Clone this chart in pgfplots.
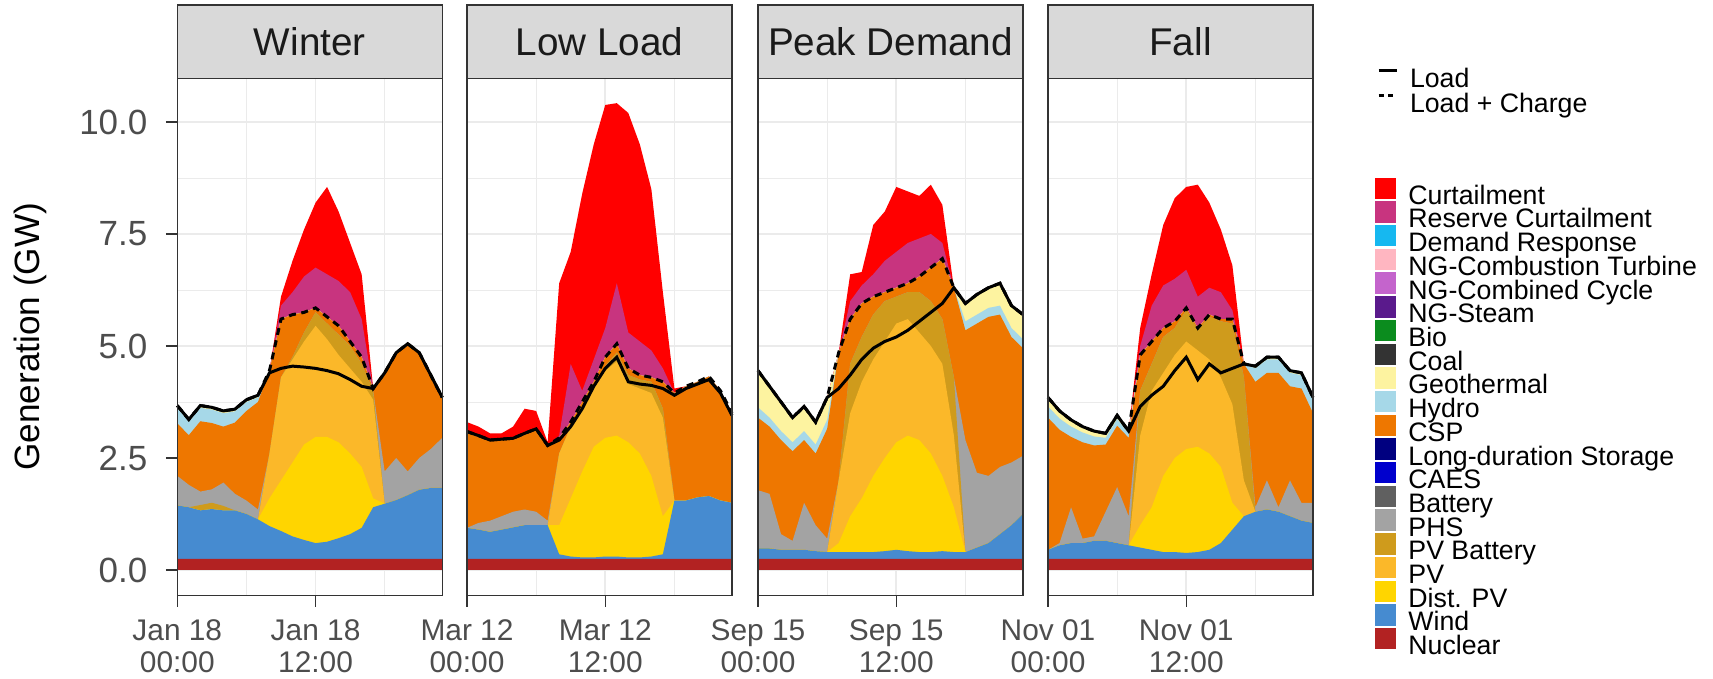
\documentclass[border=0pt]{standalone}
\usepackage{fontspec}
\setmainfont{Liberation Sans}
\usepackage{pgfplots}
\usepackage{pgfplotstable}
\pgfplotsset{compat=1.18}

\definecolor{cCur}{HTML}{FF0000}
\definecolor{cRC}{HTML}{C8347F}
\definecolor{cDR}{HTML}{16B8F0}
\definecolor{cNGCT}{HTML}{FFB6C1}
\definecolor{cNGCC}{HTML}{C464CC}
\definecolor{cNGS}{HTML}{5A1A8C}
\definecolor{cBio}{HTML}{0B8C1E}
\definecolor{cCoal}{HTML}{333333}
\definecolor{cGeo}{HTML}{FDF3A0}
\definecolor{cHyd}{HTML}{A6D8E8}
\definecolor{cCSP}{HTML}{EE7700}
\definecolor{cLDS}{HTML}{000080}
\definecolor{cCAES}{HTML}{0000CD}
\definecolor{cBat}{HTML}{606060}
\definecolor{cPHS}{HTML}{A3A3A3}
\definecolor{cPVB}{HTML}{CF9B1C}
\definecolor{cPV}{HTML}{FBB829}
\definecolor{cDPV}{HTML}{FFD500}
\definecolor{cWind}{HTML}{468BD0}
\definecolor{cNuc}{HTML}{B22222}
\definecolor{cGrid}{HTML}{EBEBEB}
\definecolor{cFrame}{HTML}{333333}
\definecolor{cTick}{HTML}{4D4D4D}
\definecolor{cStrip}{HTML}{D9D9D9}
\definecolor{cStripTxt}{HTML}{1A1A1A}

% cumulative tops of each layer (GW)
\pgfplotstableread{
h nuc wind dpv pv pvb phs csp hyd geo rc cur load lc
0 0.25 1.44 1.44 1.44 1.44 2.10 3.27 3.62 3.67 3.67 3.67 3.67 3.67
1 0.25 1.40 1.40 1.40 1.40 1.90 3.01 3.31 3.36 3.36 3.36 3.36 3.36
2 0.25 1.33 1.33 1.33 1.45 1.75 3.32 3.62 3.67 3.67 3.67 3.67 3.67
3 0.25 1.36 1.36 1.36 1.50 1.80 3.28 3.58 3.63 3.63 3.63 3.63 3.63
4 0.25 1.33 1.33 1.33 1.43 1.95 3.20 3.50 3.55 3.55 3.55 3.55 3.55
5 0.25 1.33 1.33 1.33 1.33 1.70 3.29 3.54 3.59 3.59 3.59 3.59 3.59
6 0.25 1.25 1.25 1.25 1.25 1.55 3.55 3.75 3.80 3.80 3.80 3.80 3.80
7 0.25 1.13 1.13 1.13 1.13 1.35 3.75 3.85 3.90 3.90 3.90 3.90 3.90
8 0.25 0.98 1.60 2.60 2.60 2.60 4.45 4.45 4.45 4.45 4.45 4.40 4.45
9 0.25 0.87 2.00 4.30 4.30 4.30 5.60 5.60 5.60 5.90 6.10 4.50 5.60
10 0.25 0.75 2.40 4.70 4.75 4.75 5.70 5.70 5.70 6.20 6.90 4.55 5.70
11 0.25 0.67 2.80 5.10 5.30 5.30 5.75 5.75 5.75 6.55 7.60 4.53 5.75
12 0.25 0.60 2.97 5.45 5.75 5.75 5.85 5.85 5.85 6.75 8.20 4.50 5.85
13 0.25 0.63 2.97 5.15 5.50 5.50 5.65 5.65 5.65 6.60 8.55 4.45 5.65
14 0.25 0.71 2.85 4.80 5.25 5.25 5.45 5.45 5.45 6.45 8.00 4.38 5.45
15 0.25 0.80 2.60 4.50 5.00 5.00 5.10 5.10 5.10 6.20 7.30 4.25 5.10
16 0.25 0.94 2.30 4.20 4.60 4.60 4.75 4.75 4.75 5.60 6.60 4.10 4.75
17 0.25 1.40 1.60 3.80 4.00 4.00 4.05 4.05 4.05 4.05 4.05 4.05 4.05
18 0.25 1.48 1.48 1.48 1.48 2.20 4.40 4.40 4.40 4.40 4.40 4.40 4.40
19 0.25 1.56 1.56 1.56 1.56 2.50 4.85 4.85 4.85 4.85 4.85 4.85 4.85
20 0.25 1.67 1.67 1.67 1.67 2.20 5.05 5.05 5.05 5.05 5.05 5.05 5.05
21 0.25 1.79 1.79 1.79 1.79 2.50 4.85 4.85 4.85 4.85 4.85 4.85 4.85
22 0.25 1.83 1.83 1.83 1.83 2.70 4.35 4.35 4.35 4.35 4.35 4.35 4.35
23 0.25 1.83 1.83 1.83 1.83 2.95 3.85 3.85 3.85 3.85 3.85 3.85 3.85
}\tWinter

\pgfplotstableread{
h nuc wind dpv pv pvb phs csp hyd geo rc cur load lc
0 0.25 0.94 0.94 0.94 0.94 0.94 3.09 3.09 3.09 3.09 3.30 3.09 3.09
1 0.25 0.90 0.90 0.90 0.90 1.05 3.00 3.00 3.00 3.00 3.20 3.00 3.00
2 0.25 0.85 0.85 0.85 0.85 1.10 2.90 2.90 2.90 2.90 3.05 2.90 2.90
3 0.25 0.90 0.90 0.90 0.90 1.20 2.92 2.92 2.92 2.92 3.05 2.92 2.92
4 0.25 0.95 0.95 0.95 0.95 1.30 2.94 2.94 2.94 2.94 3.20 2.94 2.94
5 0.25 1.00 1.00 1.00 1.00 1.35 3.05 3.05 3.05 3.05 3.60 3.05 3.05
6 0.25 1.00 1.00 1.00 1.00 1.30 3.15 3.15 3.15 3.15 3.55 3.15 3.15
7 0.25 1.00 1.00 1.00 1.00 1.10 2.78 2.78 2.78 2.78 2.85 2.78 2.78
8 0.25 0.35 1.00 2.60 2.60 2.60 2.95 2.95 2.95 3.00 6.40 2.90 2.95
9 0.25 0.30 1.60 3.20 3.20 3.20 3.30 3.30 3.30 4.60 7.10 3.20 3.30
10 0.25 0.28 2.20 3.60 3.65 3.65 3.75 3.75 3.75 4.00 8.40 3.60 3.75
11 0.25 0.28 2.75 4.05 4.10 4.10 4.20 4.20 4.20 4.70 9.50 4.10 4.20
12 0.25 0.30 2.95 4.45 4.55 4.55 4.75 4.75 4.75 5.40 10.38 4.50 4.75
13 0.25 0.30 3.00 4.65 4.85 4.85 5.05 5.05 5.05 6.40 10.42 4.75 5.05
14 0.25 0.28 2.85 4.15 4.35 4.35 4.50 4.50 4.50 5.30 10.20 4.20 4.50
15 0.25 0.28 2.60 4.05 4.25 4.25 4.35 4.35 4.35 5.10 9.50 4.15 4.35
16 0.25 0.30 2.10 3.95 4.20 4.20 4.30 4.30 4.30 4.90 8.50 4.12 4.30
17 0.25 0.35 1.20 3.40 3.60 3.60 4.20 4.20 4.20 4.50 6.20 4.05 4.20
18 0.25 1.55 1.55 1.55 1.55 1.55 3.95 3.95 3.95 3.95 4.05 3.90 3.95
19 0.25 1.55 1.55 1.55 1.55 1.55 4.10 4.10 4.10 4.10 4.10 4.05 4.10
20 0.25 1.62 1.62 1.62 1.62 1.62 4.20 4.20 4.20 4.20 4.20 4.15 4.20
21 0.25 1.65 1.65 1.65 1.65 1.65 4.32 4.32 4.32 4.32 4.32 4.25 4.32
22 0.25 1.55 1.55 1.55 1.55 1.55 4.00 4.00 4.00 4.00 4.00 3.95 4.00
23 0.25 1.50 1.50 1.50 1.50 1.50 3.50 3.50 3.50 3.50 3.50 3.45 3.50
}\tLow

\pgfplotstableread{
h nuc wind dpv pv pvb phs csp hyd geo rc cur load lc
0 0.25 0.48 0.48 0.48 0.48 1.78 3.40 3.63 4.45 4.45 4.45 4.45 4.45
1 0.25 0.48 0.48 0.48 0.48 1.70 3.20 3.40 4.10 4.10 4.10 4.10 4.10
2 0.25 0.45 0.45 0.45 0.45 0.80 2.90 3.10 3.75 3.75 3.75 3.75 3.75
3 0.25 0.45 0.45 0.45 0.45 0.65 2.65 2.85 3.40 3.40 3.40 3.40 3.40
4 0.25 0.45 0.45 0.45 0.45 1.50 2.90 3.10 3.65 3.65 3.65 3.65 3.65
5 0.25 0.42 0.42 0.42 0.42 1.00 2.60 2.80 3.30 3.30 3.30 3.30 3.30
6 0.25 0.40 0.40 0.40 0.40 0.70 3.15 3.35 3.85 3.85 3.85 3.85 3.85
7 0.25 0.40 0.60 2.00 2.00 2.00 4.85 4.85 4.85 4.85 4.85 4.05 4.85
8 0.25 0.40 1.20 3.50 4.60 4.60 5.60 5.60 5.60 6.00 6.60 4.35 5.60
9 0.25 0.40 1.60 4.20 5.20 5.20 5.95 5.95 5.95 6.35 6.65 4.70 5.95
10 0.25 0.40 2.10 4.70 5.70 5.70 6.10 6.10 6.10 6.60 7.70 4.95 6.10
11 0.25 0.42 2.50 5.10 6.00 6.00 6.20 6.20 6.20 6.90 8.00 5.10 6.20
12 0.25 0.45 2.85 5.50 6.10 6.10 6.30 6.30 6.30 7.10 8.55 5.20 6.30
13 0.25 0.42 3.00 5.60 6.20 6.20 6.40 6.40 6.40 7.30 8.45 5.35 6.40
14 0.25 0.40 2.90 5.30 6.20 6.20 6.55 6.55 6.55 7.40 8.35 5.55 6.55
15 0.25 0.40 2.60 5.00 6.00 6.00 6.75 6.75 6.75 7.50 8.60 5.75 6.75
16 0.25 0.42 2.10 4.60 5.60 5.60 6.95 6.95 6.95 7.30 8.15 5.95 6.95
17 0.25 0.40 1.40 3.00 4.30 4.30 6.30 6.30 6.30 6.30 6.30 6.30 6.30
18 0.25 0.40 0.40 0.40 0.40 2.90 5.35 5.55 5.95 5.95 5.95 5.95 5.95
19 0.25 0.50 0.50 0.50 0.50 2.17 5.50 5.70 6.15 6.15 6.15 6.15 6.15
20 0.25 0.60 0.60 0.60 0.60 2.10 5.65 5.85 6.30 6.30 6.30 6.30 6.30
21 0.25 0.80 0.80 0.80 0.80 2.30 5.70 5.90 6.40 6.40 6.40 6.40 6.40
22 0.25 1.00 1.00 1.00 1.00 2.40 5.20 5.40 5.90 5.90 5.90 5.90 5.90
23 0.25 1.25 1.25 1.25 1.25 2.55 4.95 5.15 5.70 5.70 5.70 5.70 5.70
}\tPeak

\pgfplotstableread{
h nuc wind dpv pv pvb phs csp hyd geo rc cur load lc
0 0.25 0.45 0.45 0.45 0.45 0.45 3.40 3.65 3.85 3.85 3.85 3.85 3.85
1 0.25 0.55 0.55 0.55 0.55 0.60 3.13 3.38 3.55 3.55 3.55 3.55 3.55
2 0.25 0.60 0.60 0.60 0.60 1.40 2.97 3.20 3.35 3.35 3.35 3.35 3.35
3 0.25 0.60 0.60 0.60 0.60 0.70 2.85 3.07 3.20 3.20 3.20 3.20 3.20
4 0.25 0.65 0.65 0.65 0.65 0.75 2.78 2.98 3.10 3.10 3.10 3.10 3.10
5 0.25 0.65 0.65 0.65 0.65 1.30 2.80 2.95 3.05 3.05 3.05 3.05 3.05
6 0.25 0.60 0.60 0.60 0.60 1.85 3.22 3.37 3.45 3.45 3.45 3.45 3.45
7 0.25 0.55 0.55 0.55 0.55 1.20 2.95 3.05 3.10 3.10 3.10 3.10 3.10
8 0.25 0.50 1.00 3.00 4.00 4.00 4.80 4.80 4.80 5.00 5.40 3.65 4.80
9 0.25 0.45 1.40 4.00 4.60 4.60 5.10 5.10 5.10 5.90 6.60 3.90 5.10
10 0.25 0.40 2.10 4.40 5.20 5.20 5.40 5.40 5.40 6.35 7.70 4.10 5.40
11 0.25 0.40 2.50 4.80 5.40 5.40 5.55 5.55 5.55 6.50 8.30 4.45 5.55
12 0.25 0.38 2.70 5.10 5.80 5.80 5.85 5.85 5.85 6.70 8.55 4.75 5.85
13 0.25 0.40 2.75 4.90 5.35 5.35 5.40 5.40 5.40 6.10 8.60 4.25 5.40
14 0.25 0.45 2.60 4.70 5.65 5.65 5.70 5.70 5.70 6.30 8.20 4.60 5.70
15 0.25 0.60 2.30 4.30 5.55 5.55 5.60 5.60 5.60 6.20 7.60 4.40 5.60
16 0.25 0.90 1.50 3.70 5.50 5.50 5.60 5.60 5.60 5.80 6.80 4.50 5.60
17 0.25 1.20 1.20 2.00 4.30 4.30 4.60 4.60 4.60 4.60 4.60 4.60 4.60
18 0.25 1.30 1.30 1.30 1.30 1.40 4.20 4.50 4.55 4.55 4.55 4.55 4.55
19 0.25 1.35 1.35 1.35 1.35 2.00 4.40 4.70 4.75 4.75 4.75 4.75 4.75
20 0.25 1.30 1.30 1.30 1.30 1.40 4.40 4.70 4.75 4.75 4.75 4.75 4.75
21 0.25 1.20 1.20 1.20 1.20 2.00 4.10 4.40 4.45 4.45 4.45 4.45 4.45
22 0.25 1.10 1.10 1.10 1.10 1.50 4.05 4.35 4.40 4.40 4.40 4.40 4.40
23 0.25 1.05 1.05 1.05 1.05 1.50 3.50 3.80 3.85 3.85 3.85 3.85 3.85
}\tFall

\newcommand{\stackplots}[1]{%
\addplot[fill=cCur,draw=none] table[x=h,y=cur]{#1} \closedcycle;
\addplot[fill=cRC,draw=none] table[x=h,y=rc]{#1} \closedcycle;
\addplot[fill=cGeo,draw=none] table[x=h,y=geo]{#1} \closedcycle;
\addplot[fill=cHyd,draw=none] table[x=h,y=hyd]{#1} \closedcycle;
\addplot[fill=cCSP,draw=none] table[x=h,y=csp]{#1} \closedcycle;
\addplot[fill=cPHS,draw=none] table[x=h,y=phs]{#1} \closedcycle;
\addplot[fill=cPVB,draw=none] table[x=h,y=pvb]{#1} \closedcycle;
\addplot[fill=cPV,draw=none] table[x=h,y=pv]{#1} \closedcycle;
\addplot[fill=cDPV,draw=none] table[x=h,y=dpv]{#1} \closedcycle;
\addplot[fill=cWind,draw=none] table[x=h,y=wind]{#1} \closedcycle;
\addplot[fill=cNuc,draw=none] table[x=h,y=nuc]{#1} \closedcycle;
\addplot[black,line width=0.3mm] table[x=h,y=load]{#1};
\addplot[black,line width=0.3mm,dash pattern=on 0.7mm off 0.55mm] table[x=h,y=lc]{#1};
}
\newcommand{\frameandstrip}[1]{%
\draw[cFrame,line width=0.15mm] (rel axis cs:0,0) rectangle (rel axis cs:1,1);
\draw[fill=cStrip,draw=cFrame,line width=0.15mm] (rel axis cs:0,1) rectangle ([yshift=7.33mm]rel axis cs:1,1);
\node[font=\fontsize{11}{13}\selectfont,text=cStripTxt,anchor=center] at ([yshift=3.66mm]rel axis cs:0.5,1) {#1};
}

\pgfplotsset{panel/.style={
  scale only axis, width=26.5mm, height=51.7mm, anchor=south west,
  xmin=0, xmax=23, ymin=-0.565, ymax=10.975,
  clip=false,
  axis line style={draw=none},
  xtick={0,12}, minor xtick={6,18},
  ytick={0,2.5,5,7.5,10}, minor ytick={1.25,3.75,6.25,8.75},
  grid=both,
  major grid style={draw=cGrid, line width=0.16mm},
  minor grid style={draw=cGrid, line width=0.08mm},
  tick align=outside, major tick length=1.15mm, minor tick length=0pt,
  tick style={draw=cFrame, line width=0.15mm},
  xtick pos=left, ytick pos=left,
  x tick label style={font=\fontsize{8.5}{9.1}\selectfont, text=cTick, align=center},
  y tick label style={font=\fontsize{9.96}{11}\selectfont, text=cTick, xshift=-0.6mm},
}}

\begin{document}
\begin{tikzpicture}
\useasboundingbox (0,0) rectangle (171.3mm,67.9mm);

\begin{axis}[panel, at={(17.73mm,8.37mm)},
  yticklabels={0.0,2.5,5.0,7.5,10.0},
  xticklabels={{Jan 18\\00:00},{Jan 18\\12:00}},
  ylabel={Generation (GW)},
  y label style={at={(axis description cs:-0.555,0.5)}, anchor=center, font=\fontsize{10}{12}\selectfont, text=black}]
\stackplots{\tWinter}
\frameandstrip{Winter}
\end{axis}

\begin{axis}[panel, at={(46.70mm,8.37mm)},
  yticklabels={,,,,}, y tick style={draw=none},
  xticklabels={{Mar 12\\00:00},{Mar 12\\12:00}}]
\stackplots{\tLow}
\frameandstrip{Low Load}
\end{axis}

\begin{axis}[panel, at={(75.80mm,8.37mm)},
  yticklabels={,,,,}, y tick style={draw=none},
  xticklabels={{Sep 15\\00:00},{Sep 15\\12:00}}]
\stackplots{\tPeak}
\frameandstrip{Peak Demand}
\end{axis}

\begin{axis}[panel, at={(104.80mm,8.37mm)},
  yticklabels={,,,,}, y tick style={draw=none},
  xticklabels={{Nov 01\\00:00},{Nov 01\\12:00}}]
\stackplots{\tFall}
\frameandstrip{Fall}
\end{axis}

% line-type legend
\begin{axis}[hide axis, scale only axis, width=5mm, height=5mm,
  xmin=0, xmax=1, ymin=0, ymax=1,
  at={(137.7mm,61.12mm)}, anchor=north west,
  legend cell align=left,
  legend style={at={(0,1)}, anchor=north west, draw=none, fill=none,
    inner sep=0pt, outer sep=0pt, row sep=0pt, column sep=1.2mm,
    font=\fontsize{7.6}{8}\selectfont,
    nodes={inner sep=0pt, text height=1.95mm, text depth=0.55mm}}]
\addlegendimage{legend image code/.code={\draw[black,line width=0.3mm] (0mm,0.93mm) -- (1.8mm,0.93mm);}}
\addlegendentry{Load}
\addlegendimage{legend image code/.code={\draw[black,line width=0.3mm,dash pattern=on 0.5mm off 0.45mm] (0mm,0.93mm) -- (1.8mm,0.93mm);}}
\addlegendentry{Load + Charge}
\end{axis}

% fill legend
\begin{axis}[hide axis, scale only axis, width=5mm, height=5mm,
  xmin=0, xmax=1, ymin=0, ymax=1,
  at={(137.5mm,49.32mm)}, anchor=north west,
  legend cell align=left,
  sq/.style={legend image code/.code={\path (0mm,0.93mm) -- (2mm,0.93mm);\fill[#1,overlay] (0mm,-0.07mm) rectangle (2mm,1.93mm);}},
  legend style={at={(0,1)}, anchor=north west, draw=none, fill=none,
    inner sep=0pt, outer sep=0pt, row sep=0pt, column sep=1.2mm,
    font=\fontsize{7.6}{8}\selectfont,
    nodes={inner sep=0pt, text height=1.85mm, text depth=0.52mm}}]
\addlegendimage{sq=cCur}\addlegendentry{Curtailment}
\addlegendimage{sq=cRC}\addlegendentry{Reserve Curtailment}
\addlegendimage{sq=cDR}\addlegendentry{Demand Response}
\addlegendimage{sq=cNGCT}\addlegendentry{NG-Combustion Turbine}
\addlegendimage{sq=cNGCC}\addlegendentry{NG-Combined Cycle}
\addlegendimage{sq=cNGS}\addlegendentry{NG-Steam}
\addlegendimage{sq=cBio}\addlegendentry{Bio}
\addlegendimage{sq=cCoal}\addlegendentry{Coal}
\addlegendimage{sq=cGeo}\addlegendentry{Geothermal}
\addlegendimage{sq=cHyd}\addlegendentry{Hydro}
\addlegendimage{sq=cCSP}\addlegendentry{CSP}
\addlegendimage{sq=cLDS}\addlegendentry{Long-duration Storage}
\addlegendimage{sq=cCAES}\addlegendentry{CAES}
\addlegendimage{sq=cBat}\addlegendentry{Battery}
\addlegendimage{sq=cPHS}\addlegendentry{PHS}
\addlegendimage{sq=cPVB}\addlegendentry{PV Battery}
\addlegendimage{sq=cPV}\addlegendentry{PV}
\addlegendimage{sq=cDPV}\addlegendentry{Dist. PV}
\addlegendimage{sq=cWind}\addlegendentry{Wind}
\addlegendimage{sq=cNuc}\addlegendentry{Nuclear}
\end{axis}
\end{tikzpicture}
\end{document}
